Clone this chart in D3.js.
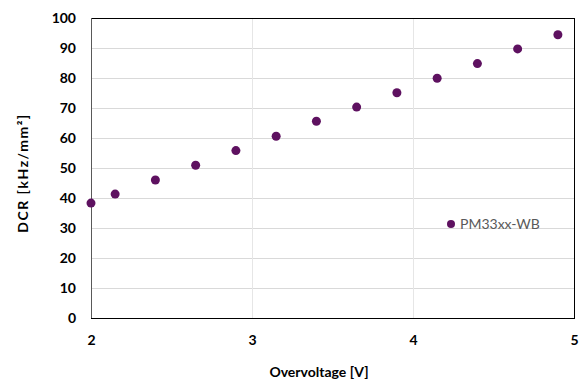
<!DOCTYPE html>
<html>
<head>
<meta charset="utf-8">
<script src="https://cdn.jsdelivr.net/npm/d3@7"></script>
<style>
  body { margin: 0; background: #fff; }
  text { font-family: Lato, "Open Sans", sans-serif; }
</style>
</head>
<body>
<div id="chart"></div>
<script>
// chart size + margins (plot area 91..574 x 18..318)
const width = 586,
      height = 382;
const margin = {top: 18, right: 12, bottom: 64, left: 91};

// data
const overvoltage = [2.0, 2.15, 2.4, 2.65, 2.9, 3.15, 3.4, 3.65, 3.9, 4.15, 4.4, 4.65, 4.9];
const dcr = [38.3, 41.3, 46.0, 50.9, 55.8, 60.6, 65.6, 70.3, 75.1, 79.9, 84.8, 89.7, 94.4];
const xTicks = [2, 3, 4, 5];
const yTicks = [0, 10, 20, 30, 40, 50, 60, 70, 80, 90, 100];
const seriesName = "PM33xx-WB";

const color = "#5e1160";

const svg = d3.select('#chart').append('svg')
    .attr("width", width)
    .attr("height", height);

const x = d3.scaleLinear().domain([2, 5]).range([margin.left, width - margin.right]);
const y = d3.scaleLinear().domain([0, 100]).range([height - margin.bottom, margin.top]);

// gridlines
svg.append("g")
    .selectAll("line.h")
    .data(yTicks.slice(1, -1))
    .enter().append("line")
    .attr("x1", x(2)).attr("x2", x(5))
    .attr("y1", d => y(d) + 0.5).attr("y2", d => y(d) + 0.5)
    .attr("stroke", "#d9d9d9");

svg.append("g")
    .selectAll("line.v")
    .data(xTicks.slice(1, -1))
    .enter().append("line")
    .attr("x1", d => x(d) + 0.5).attr("x2", d => x(d) + 0.5)
    .attr("y1", y(0)).attr("y2", y(100))
    .attr("stroke", "#e6e6e6");

// frame
svg.append("rect")
    .attr("x", x(2) + 0.5).attr("y", y(100) + 0.5)
    .attr("width", x(5) - x(2)).attr("height", y(0) - y(100))
    .attr("fill", "none")
    .attr("stroke", "#000");

svg.append("line")
    .attr("x1", x(2) + 0.5).attr("x2", x(2) + 0.5)
    .attr("y1", y(0)).attr("y2", y(100))
    .attr("stroke", "#595959");

// axes (labels only, no tick marks)
const yAxis = svg.append("g")
    .attr("transform", `translate(${x(2)},0)`)
    .call(d3.axisLeft(y).tickValues(yTicks).tickSize(0).tickPadding(15));
yAxis.select(".domain").remove();
yAxis.selectAll("text")
    .style("font-size", "14px")
    .style("font-weight", "bold")
    .attr("fill", "#000");

const xAxis = svg.append("g")
    .attr("transform", `translate(0,${y(0)})`)
    .call(d3.axisBottom(x).tickValues(xTicks).tickFormat(d3.format("d")).tickSize(0).tickPadding(17));
xAxis.select(".domain").remove();
xAxis.selectAll("text")
    .style("font-size", "14px")
    .style("font-weight", "bold")
    .attr("fill", "#000");

// axis titles
svg.append("text")
    .attr("x", 319)
    .attr("y", 377)
    .attr("text-anchor", "middle")
    .style("font-size", "14px")
    .style("font-weight", "bold")
    .text("Overvoltage [V]");

svg.append("text")
    .attr("transform", `translate(28,173) rotate(-90)`)
    .attr("text-anchor", "middle")
    .style("font-size", "14px")
    .style("font-weight", "bold")
    .style("letter-spacing", "1.5px")
    .text("DCR [kHz/mm²]");

// points
svg.append("g")
    .selectAll("circle")
    .data(overvoltage.map((v, i) => ({v: v, d: dcr[i]})))
    .enter().append("circle")
    .attr("cx", d => x(d.v))
    .attr("cy", d => y(d.d))
    .attr("r", 4.5)
    .attr("fill", color);

// legend
const legend = svg.append("g").attr("transform", "translate(451,224)");
legend.append("circle").attr("r", 4).attr("fill", color);
legend.append("text")
    .attr("x", 9)
    .attr("y", 5)
    .style("font-size", "14px")
    .attr("fill", "#595959")
    .text(seriesName);
</script>
</body>
</html>
